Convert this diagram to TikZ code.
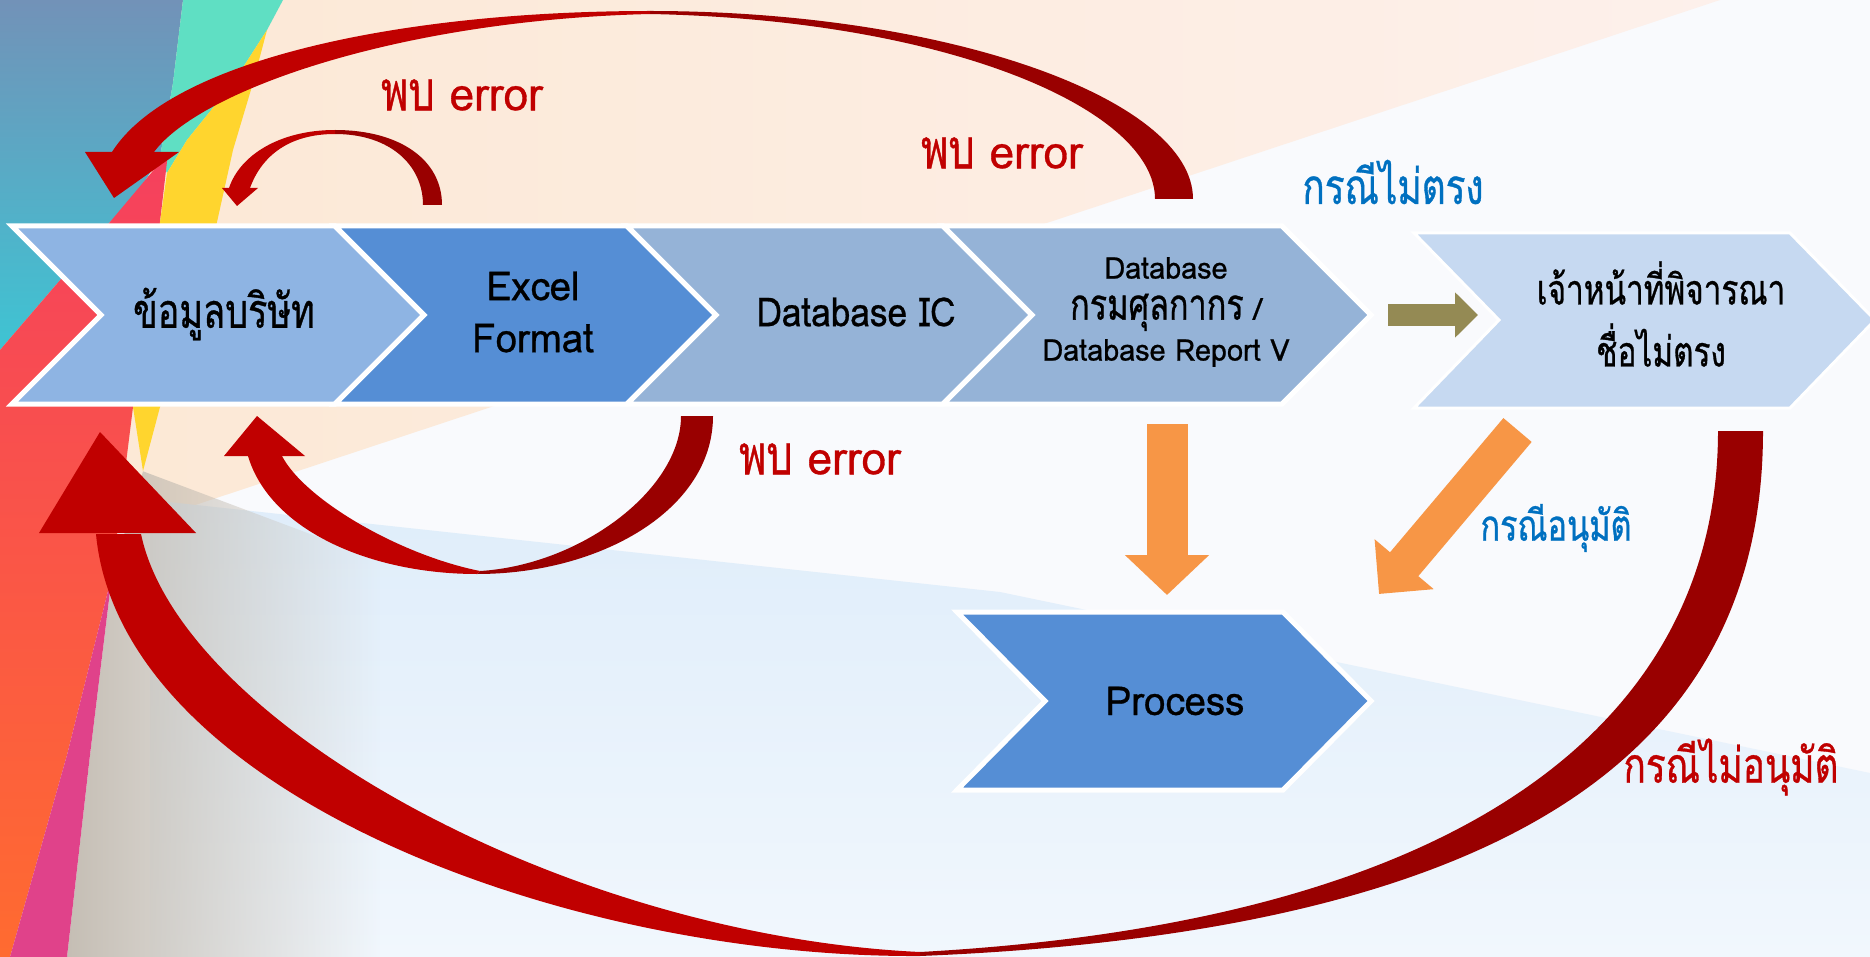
\documentclass[tikz,border=0pt]{standalone}
\usepackage{fontspec}
\setmainfont[FakeStretch=0.96, FakeBold=0.7]{Loma}
\newfontfamily\thaifont[Script=Thai, Scale=1.2, FakeStretch=0.75, FakeBold=0.7]{Loma}
\usetikzlibrary{arrows.meta,fadings}
\definecolor{cOne}{HTML}{8EB4E3}
\definecolor{cTwo}{HTML}{558ED5}
\definecolor{cThree}{HTML}{95B3D7}
\definecolor{cFive}{HTML}{C6D9F1}
\definecolor{rBright}{HTML}{C00000}
\definecolor{rDark}{HTML}{990000}
\definecolor{oArr}{HTML}{F79646}
\definecolor{olArr}{HTML}{948A54}
\definecolor{tBlue}{HTML}{0070C0}
\definecolor{bgBase}{HTML}{F9FAFD}
\definecolor{bgPeachA}{HTML}{FCE8D4}
\definecolor{bgPeachB}{HTML}{FDF0EB}
\definecolor{bgBlueA}{HTML}{DFEDFA}
\definecolor{bgBlueB}{HTML}{F1F7FD}
\definecolor{stBlueA}{HTML}{7292B8}
\definecolor{stBlueB}{HTML}{3EC4D3}
\definecolor{stMint}{HTML}{5FDFC3}
\definecolor{stRedA}{HTML}{F5405E}
\definecolor{stRedB}{HTML}{FF6B30}
\definecolor{stYellow}{HTML}{FFD52E}
\definecolor{stMagenta}{HTML}{E0428A}
\definecolor{stGrey}{HTML}{C5BEB4}
\newcommand{\chevshape}[6]{\path[chev=#6] (#1,#3) -- (#2,#3) -- ({#2+#5},{(#3+#4)/2}) -- (#2,#4) -- (#1,#4) -- ({#1+#5},{(#3+#4)/2}) -- cycle;}
\tikzset{
  chev/.style={fill=#1, draw=white, line width=5pt, line join=miter},
  chevtext/.style={inner sep=0pt, align=center, text=black, font=\fontsize{40}{52}\selectfont},
  smalltext/.style={inner sep=0pt, align=center, text=black, font=\fontsize{30}{41}\selectfont},
  redlabel/.style={inner sep=0pt, text=rBright, font=\fontsize{46}{50}\selectfont},
  bluelabel/.style={inner sep=0pt, text=tBlue, font=\fontsize{41}{50}\selectfont},
  orangearrow/.style={draw=oArr, line width=#1pt},
  olivearrow/.style={draw=olArr, line width=22pt, -{Triangle[length=23pt,width=44pt]}},
}
\begin{document}
\begin{tikzpicture}[x=1pt,y=-1pt]
\useasboundingbox (0,0) rectangle (1870,957);
% ---------- background ----------
\fill[bgBase] (0,0) rectangle (1870,957);
\shade[left color=bgPeachA, right color=bgPeachB] (0,0) -- (1720,0) -- (150,520) -- (0,520) -- cycle;
\shade[top color=bgBlueA, bottom color=bgBlueB] (150,500) -- (1000,592) -- (1870,773) -- (1870,957) -- (150,957) -- cycle;
\fill[stGrey, path fading=east] (112,575) -- (143,471) -- (380,560) -- (380,957) -- (67,957) -- (90,755) -- cycle;
\shade[top color=stBlueA, bottom color=stBlueB] (0,0) -- (183,0) -- (173,83) -- (160,157) -- (133,200) -- (110,222) -- (0,350) -- cycle;
\fill[stMint] (183,0) -- (283,0) -- (267,30) -- (233,83) -- (187,140) -- (167,173) -- (160,157) -- (173,83) -- cycle;
\shade[top color=stRedA, bottom color=stRedB] (0,350) -- (110,222) -- (168,153) -- (160,222) -- (150,320) -- (133,407) -- (112,575) -- (67,755) -- (10,957) -- (0,957) -- cycle;
\fill[stYellow] (267,30) -- (253,83) -- (233,150) -- (217,222) -- (190,320) -- (160,407) -- (143,471) -- (133,407) -- (150,320) -- (160,222) -- (167,173) -- (187,140) -- (233,83) -- cycle;
\fill[stMagenta] (112,575) -- (90,755) -- (67,957) -- (10,957) -- (67,755) -- cycle;
% ---------- chevrons ----------
\chevshape{12}{335}{226}{404}{89}{cOne}
\chevshape{335}{627}{226}{404}{89}{cTwo}
\chevshape{627}{943}{226}{404}{89}{cThree}
\chevshape{943}{1282}{226}{404}{89}{cThree}
\path[fill=cFive, draw=white, line width=3pt] (1414,233) -- (1790,233) -- (1875,320) -- (1790,408) -- (1414,408) -- (1499,320) -- cycle;
\chevshape{957}{1283}{612}{790}{88}{cTwo}
\node[chevtext] (n1) at (224,314) {\thaifont ข้อมูลบริษัท};
\node[chevtext] (n2) at (533,312) {Excel\\Format};
\node[chevtext, font=\fontsize{40}{52}\selectfont\addfontfeature{FakeStretch=0.88}] (n3) at (856,312) {Database IC};
\node[smalltext] (n4) at (1166,312) {Database\\{\fontsize{36}{41}\selectfont\thaifont กรมศุลกากร} /\\Database Report V};
\node[chevtext, font=\fontsize{35}{62}\selectfont\thaifont] (n5) at (1661,314) {เจ้าหน้าที่พิจารณา\\ชื่อไม่ตรง};
\node[chevtext] (n6) at (1175,701) {Process};
% ---------- straight arrows ----------
\coordinate (oa1s) at (1167,424);
\coordinate (oa1e) at (1167,595);
\coordinate (oa2s) at (1517.5,430);
\coordinate (oa2e) at (1379,594);
\coordinate (ola) at (1388,315);
\coordinate (olb) at (1478,315);
\draw[orangearrow=41, -{Triangle[length=40pt,width=82pt]}] (oa1s) -- (oa1e);
\draw[orangearrow=37, -{Triangle[length=39pt,width=75pt]}] (oa2s) -- (oa2e);
\draw[olivearrow] (ola) -- (olb);
% ---------- curved red arrows ----------
% top big
\fill[rDark] (650,11) .. controls (950,11) and (1193,100) .. (1193,199) -- (1155,199) .. controls (1155,110) and (950,20) .. (650,14) -- cycle;
\fill[rBright] (650,11) .. controls (400,11) and (170,60) .. (112,152) -- (154,152) .. controls (200,90) and (400,20) .. (650,14) -- cycle;
\fill[rBright] (85,152) -- (179,152) -- (114,198) -- cycle;
% top small
\fill[rDark] (335,130) .. controls (400,130) and (442,160) .. (442,205) -- (423,205) .. controls (423,165) and (390,134) .. (335,134) -- cycle;
\fill[rBright] (335,130) .. controls (280,130) and (240,155) .. (229,188) -- (250,188) .. controls (262,155) and (290,134) .. (335,134) -- cycle;
\fill[rBright] (222,188) -- (258,188) -- (237,206) -- cycle;
% bottom small
\fill[rDark] (713,416) .. controls (713,510) and (600,574) .. (477,574) -- (480,571) .. controls (580,565) and (681,490) .. (681,416) -- cycle;
\fill[rBright] (477,574) .. controls (370,574) and (270,530) .. (248,456) -- (282,456) .. controls (305,500) and (400,555) .. (480,571) -- cycle;
\fill[rBright] (224,456) -- (305,456) -- (257,416) -- cycle;
% bottom big
\fill[rDark] (1763,431) .. controls (1763,720) and (1560,930) .. (920,956) -- (920,952) .. controls (1500,920) and (1718,700) .. (1718,431) -- cycle;
\fill[rBright] (920,956) .. controls (560,958) and (120,790) .. (96,534) -- (141,534) .. controls (180,720) and (560,935) .. (920,952) -- cycle;
\fill[rBright] (39,533) -- (196,533) -- (100,432) -- cycle;
% ---------- labels ----------
\node[redlabel] (e1) at (462,95) {{\thaifont พบ} error};
\node[redlabel] (e2) at (1002,153) {{\thaifont พบ} error};
\node[redlabel] (e3) at (820,459) {{\thaifont พบ} error};
\node[bluelabel] (l1) at (1393,182) {\thaifont กรณีไม่ตรง};
\node[bluelabel, font=\fontsize{36}{50}\selectfont] (l2) at (1556,528) {\thaifont กรณีอนุมัติ};
\node[redlabel, font=\fontsize{41}{50}\selectfont] (l3) at (1731,767) {\thaifont กรณีไม่อนุมัติ};
\end{tikzpicture}
\end{document}
